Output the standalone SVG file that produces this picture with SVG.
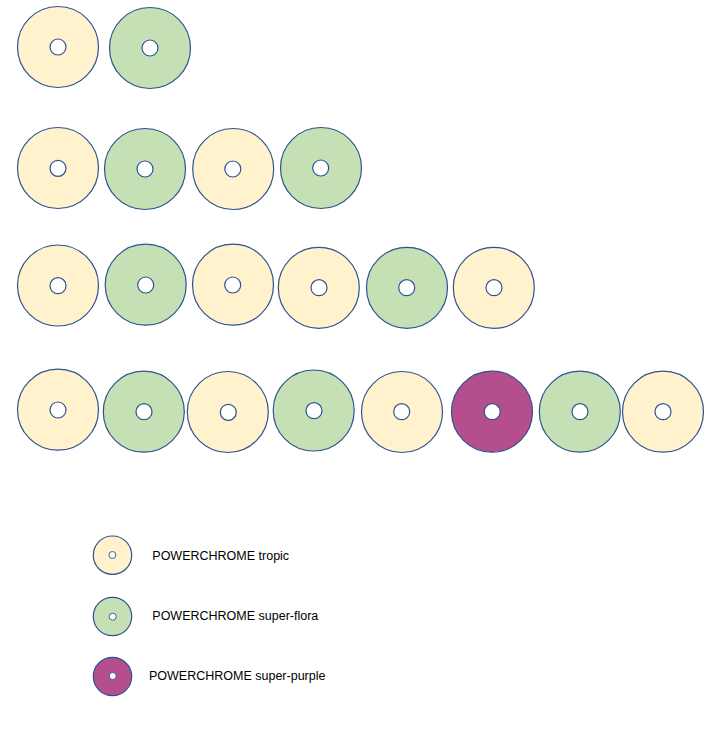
<svg xmlns="http://www.w3.org/2000/svg" width="712" height="738" viewBox="0 0 712 738">
<style>
.ring{stroke:#2F528F;stroke-width:1.2}
.y{fill:#FFF2CC}
.g{fill:#C5E0B4}
.p{fill:#B54E8C}
.hole{fill:#FFFFFF;stroke:#2F528F;stroke-width:1.2}
.lhole{fill:#FFFFFF;stroke:#2F528F;stroke-width:0.9}
.lbl{font-family:"Liberation Sans",Arial,sans-serif;font-size:12.5px;fill:#000000}
</style>
<rect width="712" height="738" fill="#FFFFFF"/>
<g id="connectors"/>
<g id="row1">
<g id="r1c1"><circle class="ring y" cx="58" cy="47" r="40.5"/><circle class="hole" cx="58" cy="47" r="8"/></g>
<g id="r1c2"><circle class="ring g" cx="150" cy="48" r="40.5"/><circle class="hole" cx="150" cy="48" r="8"/></g>
</g>
<g id="row2">
<g id="r2c1"><circle class="ring y" cx="58" cy="168" r="40.5"/><circle class="hole" cx="58" cy="168.3" r="8"/></g>
<g id="r2c2"><circle class="ring g" cx="145" cy="169" r="40.5"/><circle class="hole" cx="145" cy="169" r="8"/></g>
<g id="r2c3"><circle class="ring y" cx="233.2" cy="169" r="40.5"/><circle class="hole" cx="232.8" cy="169" r="8"/></g>
<g id="r2c4"><circle class="ring g" cx="321" cy="168" r="40.5"/><circle class="hole" cx="320.7" cy="168" r="8"/></g>
</g>
<g id="row3">
<g id="r3c1"><circle class="ring y" cx="58" cy="285.5" r="40.5"/><circle class="hole" cx="58" cy="285.7" r="8"/></g>
<g id="r3c2"><circle class="ring g" cx="145.7" cy="284.7" r="40.5"/><circle class="hole" cx="145.7" cy="285" r="8"/></g>
<g id="r3c3"><circle class="ring y" cx="233" cy="284.7" r="40.5"/><circle class="hole" cx="232.7" cy="285" r="8"/></g>
<g id="r3c4"><circle class="ring y" cx="318.8" cy="287.8" r="40.5"/><circle class="hole" cx="319" cy="287.7" r="8"/></g>
<g id="r3c5"><circle class="ring g" cx="407" cy="287.8" r="40.5"/><circle class="hole" cx="406.7" cy="287.7" r="8"/></g>
<g id="r3c6"><circle class="ring y" cx="493.8" cy="287.8" r="40.5"/><circle class="hole" cx="494" cy="287.7" r="8"/></g>
</g>
<g id="row4">
<g id="r4c1"><circle class="ring y" cx="58" cy="409.7" r="40.5"/><circle class="hole" cx="58" cy="410" r="8"/></g>
<g id="r4c2"><circle class="ring g" cx="143.8" cy="411.7" r="40.5"/><circle class="hole" cx="144" cy="411.7" r="8"/></g>
<g id="r4c3"><circle class="ring y" cx="227.8" cy="412" r="40.5"/><circle class="hole" cx="228.3" cy="412.3" r="8"/></g>
<g id="r4c4"><circle class="ring g" cx="313.7" cy="410.5" r="40.5"/><circle class="hole" cx="314" cy="410.7" r="8"/></g>
<g id="r4c5"><circle class="ring y" cx="402" cy="412" r="40.5"/><circle class="hole" cx="401.7" cy="411.7" r="8"/></g>
<g id="r4c6"><circle class="ring p" cx="492" cy="411.7" r="40.5"/><circle class="hole" cx="492.2" cy="411.7" r="8"/></g>
<g id="r4c7"><circle class="ring g" cx="579.8" cy="411.7" r="40.5"/><circle class="hole" cx="580" cy="411.7" r="8"/></g>
<g id="r4c8"><circle class="ring y" cx="663" cy="411.7" r="40.5"/><circle class="hole" cx="663" cy="411.7" r="8"/></g>
</g>
<g id="legend">
<g id="legend-tropic"><circle class="ring y" cx="112.5" cy="555.2" r="19.2"/><circle class="lhole" cx="112.4" cy="555" r="3.5"/><text class="lbl" x="152.3" y="559.5">POWERCHROME tropic</text></g>
<g id="legend-flora"><circle class="ring g" cx="112.5" cy="616.5" r="19.2"/><circle class="lhole" cx="112.7" cy="616.7" r="3.5"/><text class="lbl" x="152.3" y="620">POWERCHROME super-flora</text></g>
<g id="legend-purple"><circle class="ring p" cx="112.5" cy="676.5" r="19.2"/><circle class="lhole" cx="112.7" cy="676" r="3.5"/><text class="lbl" x="149" y="680">POWERCHROME super-purple</text></g>
</g>
</svg>
